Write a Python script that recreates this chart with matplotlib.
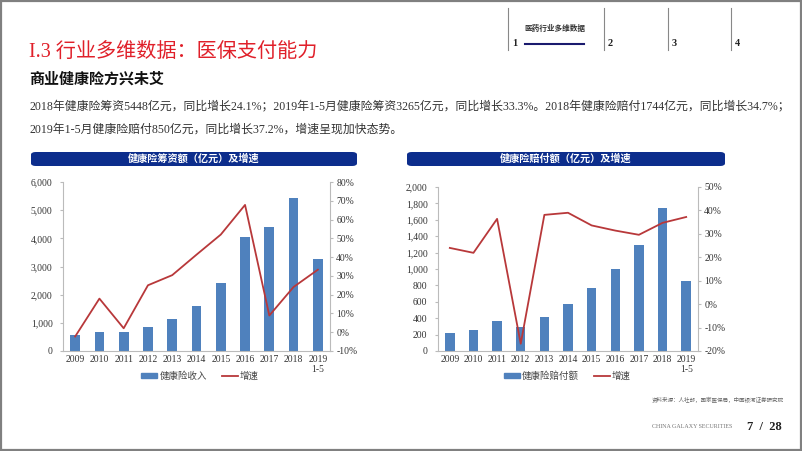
import matplotlib
matplotlib.use("Agg")
import matplotlib.pyplot as plt
from matplotlib.patches import FancyBboxPatch, Rectangle
from matplotlib.lines import Line2D
import matplotlib.ticker as mtick

# ---------------- data ----------------
years = ["2009", "2010", "2011", "2012", "2013", "2014", "2015", "2016", "2017", "2018", "2019\n1-5"]
premium = [570, 680, 690, 860, 1120, 1590, 2410, 4040, 4390, 5448, 3265]
premium_growth = [-2.3, 17.9, 2.1, 25.0, 30.4, 41.3, 52.0, 67.8, 8.9, 24.1, 33.3]
claims = [217, 262, 360, 298, 411, 571, 763, 1001, 1295, 1744, 850]
claims_growth = [24.0, 21.9, 36.4, -16.9, 38.1, 39.0, 33.6, 31.4, 29.6, 34.7, 37.2]

title_main = "I.3 行业多维数据：医保支付能力"
subtitle = "商业健康险方兴未艾"
para1 = "2018年健康险筹资5448亿元，同比增长24.1%；2019年1-5月健康险筹资3265亿元，同比增长33.3%。2018年健康险赔付1744亿元，同比增长34.7%；"
para2 = "2019年1-5月健康险赔付850亿元，同比增长37.2%，增速呈现加快态势。"
chart1_title = "健康险筹资额（亿元）及增速"
chart2_title = "健康险赔付额（亿元）及增速"
legend1 = ["健康险收入", "增速"]
legend2 = ["健康险赔付额", "增速"]
nav_labels = ["1", "2", "3", "4"]
nav_title = "医药行业多维数据"
source = "资料来源：人社部，国家医保局，中国银河证券研究院"
footer = "CHINA GALAXY SECURITIES"
page = "7  /  28"

SERIF = ["Liberation Serif", "Noto Sans CJK SC", "DejaVu Sans"]
CJK = ["Noto Sans CJK SC", "DejaVu Sans"]
BAR_C = "#4f81bd"
LINE_C = "#b8383a"
NAVY = "#0c2d8c"
TICK_FS = 6.9

W, H = 802, 451
fig = plt.figure(figsize=(W / 100, H / 100), dpi=100)


def fx(x):
    return x / W


def fy(y):
    return 1 - y / H


def ftxt(x, y, s, **kw):
    fig.text(fx(x), fy(y), s, **kw)


# slide border
fig.add_artist(Rectangle((fx(0.5), fy(449.5)), fx(800), (449) / H, transform=fig.transFigure,
                         fill=False, edgecolor="#808080", linewidth=1.6))

# header text
ftxt(29, 52, title_main, family=SERIF, fontsize=14.5, color="#e0202a", va="center", ha="left")
ftxt(29, 79, subtitle, family=CJK, fontsize=10.8, weight="bold", color="#111111", va="center", ha="left")
ftxt(29, 106, para1, family=SERIF, fontsize=8.55, color="#333333", va="center", ha="left")
ftxt(29, 130, para2, family=SERIF, fontsize=8.55, color="#333333", va="center", ha="left")

# navigation
for xv, lab in zip([508, 604, 668, 731], nav_labels):
    fig.add_artist(Line2D([fx(xv), fx(xv)], [fy(8), fy(50)], transform=fig.transFigure,
                          color="#888888", linewidth=0.8))
    ftxt(xv + 4, 44, lab, family=SERIF, fontsize=7.5, weight="bold", color="#222222", va="center", ha="left")
fig.add_artist(Line2D([fx(525), fx(584)], [fy(43.5), fy(43.5)], transform=fig.transFigure,
                      color="#1a1a6e", linewidth=1.5))
ftxt(555, 28, nav_title, family=CJK, fontsize=5.5, weight="bold", color="#333333", va="center", ha="center")

# footer
ftxt(652, 400, source, family=CJK, fontsize=4.0, color="#666666", va="center", ha="left")
ftxt(652, 427, footer, family=SERIF, fontsize=4.3, color="#777777", va="center", ha="left")
ftxt(782, 427, page, family=SERIF, fontsize=9, weight="bold", color="#222222", va="center", ha="right")


def title_bar(x0, x1, y0, y1, text):
    p = FancyBboxPatch((fx(x0), fy(y1)), fx(x1 - x0), (y1 - y0) / H,
                       boxstyle="round,pad=0,rounding_size=0.006", transform=fig.transFigure,
                       facecolor=NAVY, edgecolor="none")
    fig.add_artist(p)
    ftxt((x0 + x1) / 2, (y0 + y1) / 2, text, family=CJK, fontsize=7.3, weight="bold",
         color="white", va="center", ha="center")


def make_chart(left, right, top, bottom, vals, growth, ymax, ystep, gmin, gmax, gstep, legs, leg_cx):
    ax = fig.add_axes([fx(left), fy(bottom), fx(right - left), (bottom - top) / H])
    x = list(range(len(years)))
    ax.bar(x, vals, width=0.4, color=BAR_C, zorder=2)
    ax.set_xlim(-0.5, len(years) - 0.5)
    ax.set_ylim(0, ymax)
    ax.set_yticks(list(range(0, ymax + 1, ystep)))
    ax.yaxis.set_major_formatter(mtick.FuncFormatter(lambda v, p: f"{int(v):,}"))
    ax.set_xticks(x)
    ax.set_xticklabels(years, family=SERIF, fontsize=TICK_FS, color="#333333", linespacing=1.15)
    for lab in ax.get_yticklabels():
        lab.set_family(SERIF)
        lab.set_fontsize(TICK_FS)
        lab.set_color("#333333")
    ax.spines["top"].set_visible(False)
    ax.spines["right"].set_visible(False)
    ax.spines["left"].set_color("#bbbbbb")
    ax.spines["bottom"].set_color("#bbbbbb")
    ax.tick_params(axis="y", length=2.5, color="#bbbbbb", pad=5)
    ax.tick_params(axis="x", length=0, pad=3)

    ax2 = ax.twinx()
    ax2.plot(x, growth, color=LINE_C, linewidth=1.3, zorder=3)
    ax2.set_ylim(gmin, gmax)
    ax2.set_yticks(list(range(gmin, gmax + 1, gstep)))
    ax2.yaxis.set_major_formatter(mtick.FuncFormatter(lambda v, p: f"{int(v)}%"))
    for lab in ax2.get_yticklabels():
        lab.set_family(SERIF)
        lab.set_fontsize(TICK_FS)
        lab.set_color("#333333")
    for s in ["top", "left", "bottom"]:
        ax2.spines[s].set_visible(False)
    ax2.spines["right"].set_color("#bbbbbb")
    ax2.tick_params(axis="y", length=2.5, color="#bbbbbb", pad=2)
    ax.set_zorder(1)
    ax2.set_zorder(2)

    handles = [Rectangle((0, 0), 1, 1, color=BAR_C), Line2D([0], [0], color=LINE_C, linewidth=1.3)]
    leg = fig.legend(handles, legs, loc="center", bbox_to_anchor=(fx(leg_cx), fy(376)),
                     ncol=2, frameon=False, prop={"family": CJK, "size": 6.8},
                     handlelength=1.7, handleheight=0.45, columnspacing=1.6, handletextpad=0.2)
    for t in leg.get_texts():
        t.set_color("#444444")
    return ax


title_bar(31, 357, 152, 166, chart1_title)
title_bar(407, 725, 152, 166, chart2_title)

make_chart(63, 330, 182, 351, premium, premium_growth, 6000, 1000, -10, 80, 10, legend1, 200)
make_chart(438, 698, 187, 351, claims, claims_growth, 2000, 200, -20, 50, 10, legend2, 567)

fig.savefig("out.png", dpi=100)
